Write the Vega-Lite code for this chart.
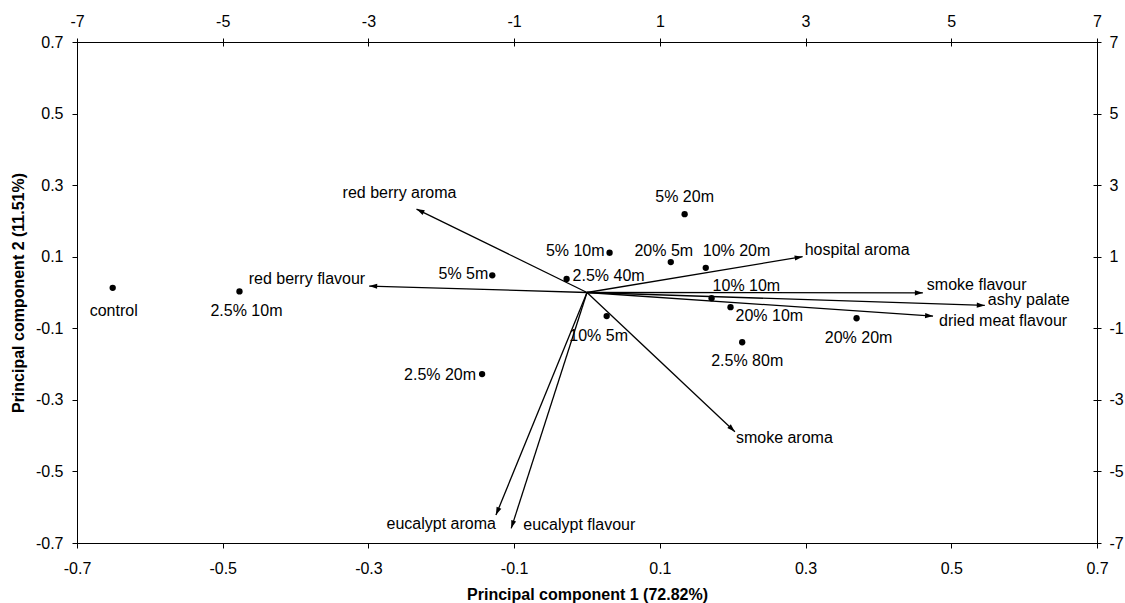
{
  "$schema": "https://vega.github.io/schema/vega-lite/v6.json",
  "width": 1020,
  "height": 501,
  "autosize": {"type": "none"},
  "padding": {"left": 77, "top": 42, "right": 28, "bottom": 60},
  "background": "white",
  "config": {
    "view": {"stroke": "black", "strokeWidth": 1},
    "font": "Liberation Sans",
    "axis": {
      "grid": false,
      "domainColor": "black",
      "tickColor": "black",
      "labelColor": "black",
      "titleColor": "black",
      "labelFont": "Liberation Sans",
      "labelFontSize": 16,
      "titleFont": "Liberation Sans",
      "titleFontSize": 16,
      "titleFontWeight": "bold",
      "tickSize": 5,
      "domainWidth": 1,
      "tickWidth": 1,
      "labelFlush": false,
      "labelOverlap": false
    },
    "text": {"font": "Liberation Sans", "fontSize": 16, "color": "black", "baseline": "middle"}
  },
  "datasets": {
    "scores": [
      {"label": "control", "pc1": -0.651, "pc2": 0.013},
      {"label": "2.5% 10m", "pc1": -0.477, "pc2": 0.003},
      {"label": "5% 5m", "pc1": -0.130, "pc2": 0.048},
      {"label": "2.5% 40m", "pc1": -0.028, "pc2": 0.038},
      {"label": "5% 10m", "pc1": 0.031, "pc2": 0.111},
      {"label": "20% 5m", "pc1": 0.115, "pc2": 0.085},
      {"label": "10% 20m", "pc1": 0.163, "pc2": 0.069},
      {"label": "5% 20m", "pc1": 0.134, "pc2": 0.219},
      {"label": "10% 10m", "pc1": 0.171, "pc2": -0.016},
      {"label": "20% 10m", "pc1": 0.197, "pc2": -0.041},
      {"label": "20% 20m", "pc1": 0.370, "pc2": -0.072},
      {"label": "2.5% 80m", "pc1": 0.213, "pc2": -0.139},
      {"label": "10% 5m", "pc1": 0.027, "pc2": -0.066},
      {"label": "2.5% 20m", "pc1": -0.144, "pc2": -0.228}
    ],
    "loadings": [
      {"label": "red berry aroma", "pc1": -0.234, "pc2": 0.233},
      {"label": "hospital aroma", "pc1": 0.296, "pc2": 0.100},
      {"label": "smoke flavour", "pc1": 0.461, "pc2": -0.001},
      {"label": "ashy palate", "pc1": 0.546, "pc2": -0.036},
      {"label": "dried meat flavour", "pc1": 0.475, "pc2": -0.066},
      {"label": "red berry flavour", "pc1": -0.299, "pc2": 0.018},
      {"label": "smoke aroma", "pc1": 0.203, "pc2": -0.389},
      {"label": "eucalypt aroma", "pc1": -0.125, "pc2": -0.622},
      {"label": "eucalypt flavour", "pc1": -0.104, "pc2": -0.659}
    ]
  },
  "resolve": {"axis": {"x": "independent", "y": "independent"}},
  "layer": [
    {
      "data": {"name": "loadings"},
      "mark": {"type": "rule", "color": "black", "strokeWidth": 1.3},
      "encoding": {
        "x": {
          "field": "pc1", "type": "quantitative",
          "scale": {"domain": [-0.7, 0.7], "nice": false, "zero": false},
          "axis": {
            "orient": "bottom",
            "values": [-0.7, -0.5, -0.3, -0.1, 0.1, 0.3, 0.5, 0.7],
            "labelExpr": "toString(round(datum.value * 10) / 10)",
            "title": "Principal component 1 (72.82%)",
            "labelPadding": 12,
            "titlePadding": 10
          }
        },
        "y": {
          "field": "pc2", "type": "quantitative",
          "scale": {"domain": [-0.7, 0.7], "nice": false, "zero": false},
          "axis": {
            "orient": "left",
            "values": [-0.7, -0.5, -0.3, -0.1, 0.1, 0.3, 0.5, 0.7],
            "labelExpr": "toString(round(datum.value * 10) / 10)",
            "title": "Principal component 2 (11.51%)",
            "labelPadding": 9,
            "titlePadding": 9
          }
        },
        "x2": {"datum": 0},
        "y2": {"datum": 0}
      }
    },
    {
      "data": {"name": "loadings"},
      "transform": [
        {"calculate": "atan2(-datum.pc2 * 357.86, datum.pc1 * 728.57) * 180 / PI", "as": "heading"}
      ],
      "mark": {
        "type": "point",
        "shape": "M0,0L-1,-0.32L-1,0.32Z",
        "filled": true,
        "color": "black",
        "opacity": 1,
        "size": 256,
        "strokeWidth": 0
      },
      "encoding": {
        "x": {
          "field": "pc1", "type": "quantitative",
          "axis": {
            "orient": "top",
            "values": [-0.7, -0.5, -0.3, -0.1, 0.1, 0.3, 0.5, 0.7],
            "labelExpr": "toString(round(datum.value * 10))",
            "title": null,
            "domain": false,
            "offset": -4,
            "tickSize": 8,
            "labelPadding": 9
          }
        },
        "y": {
          "field": "pc2", "type": "quantitative",
          "axis": {
            "orient": "right",
            "values": [-0.7, -0.5, -0.3, -0.1, 0.1, 0.3, 0.5, 0.7],
            "labelExpr": "toString(round(datum.value * 10))",
            "title": null,
            "domain": false,
            "offset": -4,
            "tickSize": 8,
            "labelPadding": 8
          }
        },
        "angle": {"field": "heading", "type": "quantitative", "scale": null}
      }
    },
    {
      "data": {"name": "scores"},
      "mark": {"type": "circle", "color": "black", "opacity": 1, "size": 40},
      "encoding": {
        "x": {"field": "pc1", "type": "quantitative", "axis": null},
        "y": {"field": "pc2", "type": "quantitative", "axis": null}
      }
    },
    {"data": {"name": "scores"}, "transform": [{"filter": "datum.label === 'control'"}], "mark": {"type": "text", "align": "center", "dx": 1, "dy": 23}, "encoding": {"x": {"field": "pc1", "type": "quantitative", "axis": null}, "y": {"field": "pc2", "type": "quantitative", "axis": null}, "text": {"field": "label"}}},
    {"data": {"name": "scores"}, "transform": [{"filter": "datum.label === '2.5% 10m'"}], "mark": {"type": "text", "align": "center", "dx": 7, "dy": 20}, "encoding": {"x": {"field": "pc1", "type": "quantitative", "axis": null}, "y": {"field": "pc2", "type": "quantitative", "axis": null}, "text": {"field": "label"}}},
    {"data": {"name": "scores"}, "transform": [{"filter": "datum.label === '5% 5m'"}], "mark": {"type": "text", "align": "right", "dx": -4, "dy": -1}, "encoding": {"x": {"field": "pc1", "type": "quantitative", "axis": null}, "y": {"field": "pc2", "type": "quantitative", "axis": null}, "text": {"field": "label"}}},
    {"data": {"name": "scores"}, "transform": [{"filter": "datum.label === '2.5% 40m'"}], "mark": {"type": "text", "align": "left", "dx": 6, "dy": -3}, "encoding": {"x": {"field": "pc1", "type": "quantitative", "axis": null}, "y": {"field": "pc2", "type": "quantitative", "axis": null}, "text": {"field": "label"}}},
    {"data": {"name": "scores"}, "transform": [{"filter": "datum.label === '5% 10m'"}], "mark": {"type": "text", "align": "right", "dx": -5, "dy": -2}, "encoding": {"x": {"field": "pc1", "type": "quantitative", "axis": null}, "y": {"field": "pc2", "type": "quantitative", "axis": null}, "text": {"field": "label"}}},
    {"data": {"name": "scores"}, "transform": [{"filter": "datum.label === '20% 5m'"}], "mark": {"type": "text", "align": "center", "dx": -7, "dy": -11}, "encoding": {"x": {"field": "pc1", "type": "quantitative", "axis": null}, "y": {"field": "pc2", "type": "quantitative", "axis": null}, "text": {"field": "label"}}},
    {"data": {"name": "scores"}, "transform": [{"filter": "datum.label === '10% 20m'"}], "mark": {"type": "text", "align": "left", "dx": -3, "dy": -17}, "encoding": {"x": {"field": "pc1", "type": "quantitative", "axis": null}, "y": {"field": "pc2", "type": "quantitative", "axis": null}, "text": {"field": "label"}}},
    {"data": {"name": "scores"}, "transform": [{"filter": "datum.label === '5% 20m'"}], "mark": {"type": "text", "align": "center", "dx": 0, "dy": -17}, "encoding": {"x": {"field": "pc1", "type": "quantitative", "axis": null}, "y": {"field": "pc2", "type": "quantitative", "axis": null}, "text": {"field": "label"}}},
    {"data": {"name": "scores"}, "transform": [{"filter": "datum.label === '10% 10m'"}], "mark": {"type": "text", "align": "left", "dx": 1, "dy": -12}, "encoding": {"x": {"field": "pc1", "type": "quantitative", "axis": null}, "y": {"field": "pc2", "type": "quantitative", "axis": null}, "text": {"field": "label"}}},
    {"data": {"name": "scores"}, "transform": [{"filter": "datum.label === '20% 10m'"}], "mark": {"type": "text", "align": "left", "dx": 5, "dy": 9}, "encoding": {"x": {"field": "pc1", "type": "quantitative", "axis": null}, "y": {"field": "pc2", "type": "quantitative", "axis": null}, "text": {"field": "label"}}},
    {"data": {"name": "scores"}, "transform": [{"filter": "datum.label === '20% 20m'"}], "mark": {"type": "text", "align": "center", "dx": 2, "dy": 20}, "encoding": {"x": {"field": "pc1", "type": "quantitative", "axis": null}, "y": {"field": "pc2", "type": "quantitative", "axis": null}, "text": {"field": "label"}}},
    {"data": {"name": "scores"}, "transform": [{"filter": "datum.label === '2.5% 80m'"}], "mark": {"type": "text", "align": "center", "dx": 5, "dy": 19}, "encoding": {"x": {"field": "pc1", "type": "quantitative", "axis": null}, "y": {"field": "pc2", "type": "quantitative", "axis": null}, "text": {"field": "label"}}},
    {"data": {"name": "scores"}, "transform": [{"filter": "datum.label === '10% 5m'"}], "mark": {"type": "text", "align": "center", "dx": -8, "dy": 20}, "encoding": {"x": {"field": "pc1", "type": "quantitative", "axis": null}, "y": {"field": "pc2", "type": "quantitative", "axis": null}, "text": {"field": "label"}}},
    {"data": {"name": "scores"}, "transform": [{"filter": "datum.label === '2.5% 20m'"}], "mark": {"type": "text", "align": "right", "dx": -6, "dy": 1}, "encoding": {"x": {"field": "pc1", "type": "quantitative", "axis": null}, "y": {"field": "pc2", "type": "quantitative", "axis": null}, "text": {"field": "label"}}},
    {"data": {"name": "loadings"}, "transform": [{"filter": "datum.label === 'red berry aroma'"}], "mark": {"type": "text", "align": "center", "dx": -17, "dy": -16}, "encoding": {"x": {"field": "pc1", "type": "quantitative", "axis": null}, "y": {"field": "pc2", "type": "quantitative", "axis": null}, "text": {"field": "label"}}},
    {"data": {"name": "loadings"}, "transform": [{"filter": "datum.label === 'hospital aroma'"}], "mark": {"type": "text", "align": "left", "dx": 2, "dy": -7}, "encoding": {"x": {"field": "pc1", "type": "quantitative", "axis": null}, "y": {"field": "pc2", "type": "quantitative", "axis": null}, "text": {"field": "label"}}},
    {"data": {"name": "loadings"}, "transform": [{"filter": "datum.label === 'smoke flavour'"}], "mark": {"type": "text", "align": "left", "dx": 4, "dy": -8}, "encoding": {"x": {"field": "pc1", "type": "quantitative", "axis": null}, "y": {"field": "pc2", "type": "quantitative", "axis": null}, "text": {"field": "label"}}},
    {"data": {"name": "loadings"}, "transform": [{"filter": "datum.label === 'ashy palate'"}], "mark": {"type": "text", "align": "left", "dx": 3, "dy": -5}, "encoding": {"x": {"field": "pc1", "type": "quantitative", "axis": null}, "y": {"field": "pc2", "type": "quantitative", "axis": null}, "text": {"field": "label"}}},
    {"data": {"name": "loadings"}, "transform": [{"filter": "datum.label === 'dried meat flavour'"}], "mark": {"type": "text", "align": "left", "dx": 6, "dy": 5}, "encoding": {"x": {"field": "pc1", "type": "quantitative", "axis": null}, "y": {"field": "pc2", "type": "quantitative", "axis": null}, "text": {"field": "label"}}},
    {"data": {"name": "loadings"}, "transform": [{"filter": "datum.label === 'red berry flavour'"}], "mark": {"type": "text", "align": "right", "dx": -4, "dy": -7}, "encoding": {"x": {"field": "pc1", "type": "quantitative", "axis": null}, "y": {"field": "pc2", "type": "quantitative", "axis": null}, "text": {"field": "label"}}},
    {"data": {"name": "loadings"}, "transform": [{"filter": "datum.label === 'smoke aroma'"}], "mark": {"type": "text", "align": "left", "dx": 1, "dy": 6}, "encoding": {"x": {"field": "pc1", "type": "quantitative", "axis": null}, "y": {"field": "pc2", "type": "quantitative", "axis": null}, "text": {"field": "label"}}},
    {"data": {"name": "loadings"}, "transform": [{"filter": "datum.label === 'eucalypt aroma'"}], "mark": {"type": "text", "align": "right", "dx": 0, "dy": 9}, "encoding": {"x": {"field": "pc1", "type": "quantitative", "axis": null}, "y": {"field": "pc2", "type": "quantitative", "axis": null}, "text": {"field": "label"}}},
    {"data": {"name": "loadings"}, "transform": [{"filter": "datum.label === 'eucalypt flavour'"}], "mark": {"type": "text", "align": "left", "dx": 12, "dy": -3}, "encoding": {"x": {"field": "pc1", "type": "quantitative", "axis": null}, "y": {"field": "pc2", "type": "quantitative", "axis": null}, "text": {"field": "label"}}}
  ]
}
